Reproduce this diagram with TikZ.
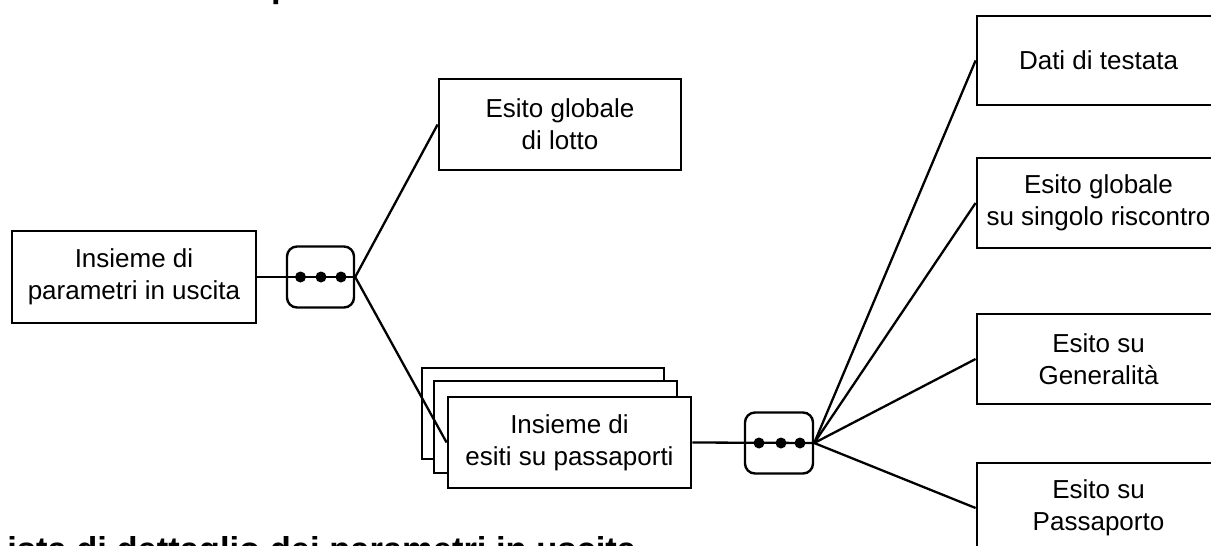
\documentclass[tikz,border=0pt]{standalone}
\usepackage{fontspec}
\setmainfont{Liberation Sans}
\begin{document}
\begin{tikzpicture}[x=1pt,y=-1pt,
  box/.style={draw=black,line width=2.8pt,fill=white,inner sep=0pt,align=center,
    font=\fontsize{26}{32}\selectfont},
  seqbox/.style={draw=black,line width=2.4pt,rounded corners=10pt,fill=white,inner sep=0pt,
    minimum width=67pt,minimum height=61pt},
  conn/.style={draw=black,line width=2.3pt},
  seqdot/.style={fill=black,circle,inner sep=0pt,minimum size=11pt},
  heading/.style={inner sep=0pt,font=\fontsize{34.5}{40}\bfseries\selectfont}]
\useasboundingbox (0,0) rectangle (1211,546);
\clip (0,0) rectangle (1211,546);

% headings (cut by the frame)
\node[heading,anchor=base west] (toptitle) at (271,-2.5) {p};
\node[heading,anchor=base west] (bottomtitle) at (-14,561) {Lista di dettaglio dei parametri in uscita};

% left part
\node[box,minimum width=244pt,minimum height=92pt] (params) at (134,277)
  {Insieme di\\parametri in uscita};
\node[seqbox] (seqA) at (320.5,277) {};
\node[box,minimum width=242pt,minimum height=91pt] (lotto) at (560,124.5)
  {Esito globale\\di lotto};

% stacked boxes
\node[box,minimum width=242pt,minimum height=91pt] (stackback) at (543,413.5) {};
\node[box,minimum width=243pt,minimum height=92pt] (stackmid) at (555.5,427) {};
\node[box,minimum width=243pt,minimum height=91pt] (esiti) at (569.5,442.5)
  {Insieme di\\esiti su passaporti};

\node[seqbox,minimum width=68pt] (seqB) at (779,443) {};

% right boxes
\node[box,minimum width=243pt,minimum height=89pt] (testata) at (1098.5,60.5) {Dati di testata};
\node[box,minimum width=243pt,minimum height=90pt] (singolo) at (1098.5,203)
  {Esito globale\\su singolo riscontro};
\node[box,minimum width=243pt,minimum height=90pt] (general) at (1098.5,359)
  {Esito su\\Generalità};
\node[box,minimum width=243pt,minimum height=90pt] (passap) at (1098.5,508)
  {Esito su\\Passaporto};

% connectors
\draw[conn] (params.east) -- (seqA.east);
\draw[conn] (seqA.east) -- (lotto.west);
\draw[conn] (seqA.east) -- (esiti.west);
\draw[conn] (esiti.east) -- (seqB.east);
\draw[conn] (seqB.east) -- (testata.west);
\draw[conn] (seqB.east) -- (singolo.west);
\draw[conn] (seqB.east) -- (general.west);
\draw[conn] (seqB.east) -- (passap.west);

% sequence dots
\node[seqdot] (a1) at ([xshift=-20pt]seqA.center) {};
\node[seqdot] (a2) at ([xshift=0.5pt]seqA.center) {};
\node[seqdot] (a3) at ([xshift=20.5pt]seqA.center) {};
\node[seqdot] (b1) at ([xshift=-20pt]seqB.center) {};
\node[seqdot] (b2) at ([xshift=2pt]seqB.center) {};
\node[seqdot] (b3) at ([xshift=21pt]seqB.center) {};
\end{tikzpicture}
\end{document}
